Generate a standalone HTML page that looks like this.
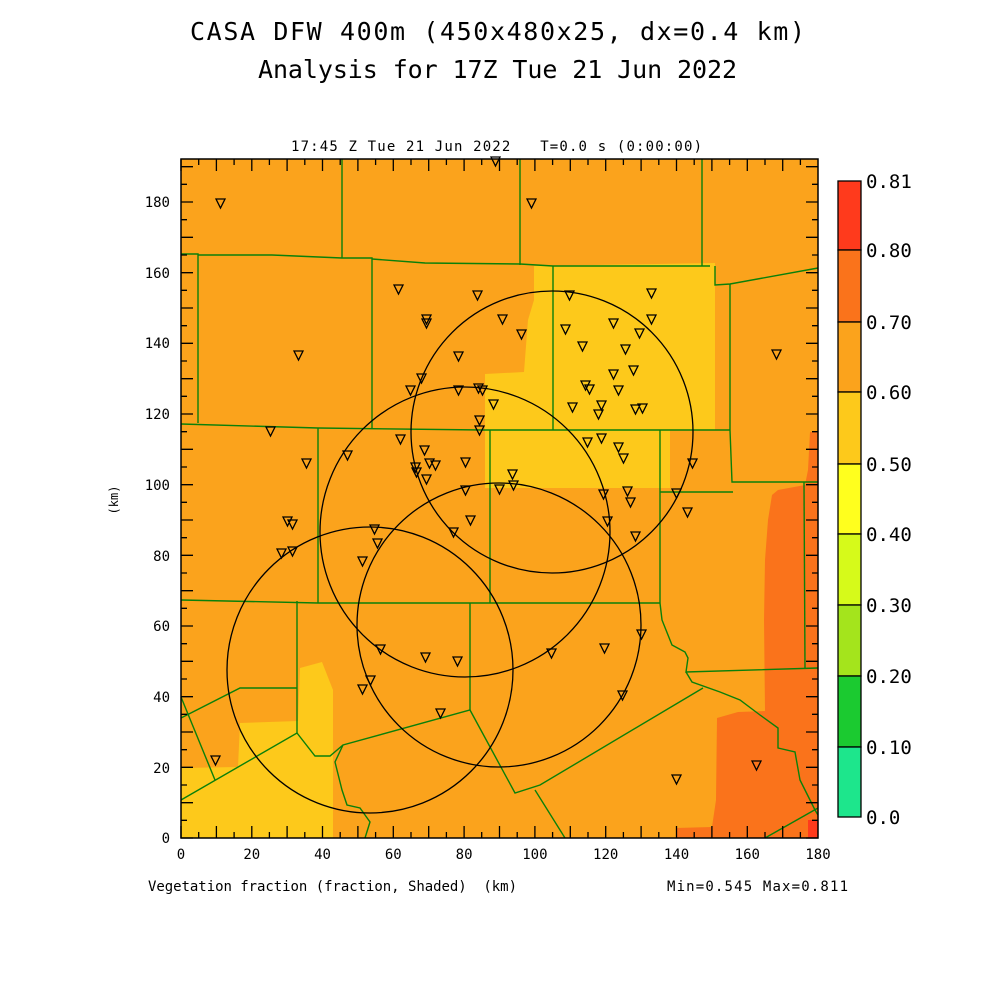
<!DOCTYPE html>
<html><head><meta charset="utf-8"><style>
body{margin:0;background:#fff;}
svg{display:block;font-family:"DejaVu Sans Mono","Liberation Mono",monospace;}
</style></head><body>
<svg width="1000" height="1000" viewBox="0 0 1000 1000" xmlns="http://www.w3.org/2000/svg">
<rect width="1000" height="1000" fill="#fff"/>
<text x="190" y="40" font-size="25" textLength="615" lengthAdjust="spacing" fill="#000">CASA DFW 400m (450x480x25, dx=0.4 km)</text>
<text x="258" y="78" font-size="25" textLength="479" lengthAdjust="spacing" fill="#000">Analysis for 17Z Tue 21 Jun 2022</text>
<text x="291" y="151" font-size="14" textLength="411" lengthAdjust="spacing" xml:space="preserve">17:45 Z Tue 21 Jun 2022   T=0.0 s (0:00:00)</text>

<rect x="181" y="159" width="637" height="679" fill="#FBA31C"/>
<polygon fill="#FDC91B" points="534,266 715,263 715,430 670,430 670,488 485,488 485,374 524,372 528,320 534,300"/>
<polygon fill="#FDC91B" points="181,768 238,767 240,723 298,721 300,668 322,662 333,690 333,838 181,838"/>
<polygon fill="#FA731B" points="810,432 818,432 818,838 676,838 676,828 712,827 716,800 717,718 738,712 765,711 764,620 765,560 768,520 772,495 778,490 805,485 808,470"/>
<rect x="808" y="820" width="10" height="18" fill="#FF3A1C"/>

<g stroke="#0A800A" stroke-width="1.4" fill="none">
<polyline points="181,254 198,254 198,423"/>
<polyline points="198,255 272,255 342,258 372,258 372,428"/>
<line x1="342" y1="159" x2="342" y2="258"/>
<polyline points="372,259 425,263 520,264 553,266 710,266"/>
<line x1="520" y1="159" x2="520" y2="265"/>
<line x1="702" y1="159" x2="702" y2="266"/>
<polyline points="715,266 715,285 730,284 818,268"/>
<line x1="553" y1="266" x2="553" y2="430"/>
<polyline points="181,424 318,428 483,430 730,430"/>
<polyline points="730,284 730,430 732,482 818,482"/>
<line x1="318" y1="428" x2="318" y2="603"/>
<line x1="490" y1="430" x2="490" y2="603"/>
<polyline points="660,430 660,603"/>
<line x1="660" y1="492" x2="733" y2="492"/>
<polyline points="181,600 318,603 660,603"/>
<line x1="297" y1="601" x2="297" y2="733"/>
<line x1="470" y1="603" x2="470" y2="710"/>
<polyline points="660,603 662,620 672,645 685,652 688,658 686,672 818,668"/>
<polyline points="804,482 805,668"/>
<polyline points="181,718 240,688 297,688"/>
<polyline points="181,697 215,780"/>
<polyline points="181,800 297,733 315,756 330,756 343,745 470,710 515,793 540,785 703,688"/>
<polyline points="343,745 335,762 342,790 347,805 360,808 370,822 365,838"/>
<polyline points="535,790 565,838"/>
<polyline points="686,672 692,682 720,692 740,700 760,715 778,728 778,748 795,752 800,780 810,800 815,810 818,815"/>
<polyline points="765,838 818,808"/>
</g>

<g stroke="#000" stroke-width="1.3" fill="none">
<circle cx="552" cy="432" r="141"/>
<circle cx="465" cy="532" r="145"/>
<circle cx="499" cy="625" r="142"/>
<circle cx="370" cy="670" r="143"/>
</g>

<g stroke="#000" stroke-width="1.3" fill="none">
<path d="M216,199h9l-4.5,9z M527,199h9l-4.5,9z M491,157h9l-4.5,9z M394,285h9l-4.5,9z M422,315h9l-4.5,9z M422,319h9l-4.5,9z M473,291h9l-4.5,9z M565,291h9l-4.5,9z M647,289h9l-4.5,9z M647,315h9l-4.5,9z M498,315h9l-4.5,9z M517,330h9l-4.5,9z M561,325h9l-4.5,9z M609,319h9l-4.5,9z M578,342h9l-4.5,9z M635,329h9l-4.5,9z M621,345h9l-4.5,9z M454,352h9l-4.5,9z M294,351h9l-4.5,9z M772,350h9l-4.5,9z M406,386h9l-4.5,9z M417,374h9l-4.5,9z M454,386h9l-4.5,9z M474,384h9l-4.5,9z M478,386h9l-4.5,9z M489,400h9l-4.5,9z M609,370h9l-4.5,9z M629,366h9l-4.5,9z M581,381h9l-4.5,9z M585,385h9l-4.5,9z M614,386h9l-4.5,9z M568,403h9l-4.5,9z M597,401h9l-4.5,9z M631,405h9l-4.5,9z M638,404h9l-4.5,9z M594,410h9l-4.5,9z M475,416h9l-4.5,9z M475,426h9l-4.5,9z M266,427h9l-4.5,9z M396,435h9l-4.5,9z M583,438h9l-4.5,9z M597,434h9l-4.5,9z M614,443h9l-4.5,9z M619,454h9l-4.5,9z M343,451h9l-4.5,9z M302,459h9l-4.5,9z M411,463h9l-4.5,9z M420,446h9l-4.5,9z M425,459h9l-4.5,9z M431,461h9l-4.5,9z M412,468h9l-4.5,9z M422,475h9l-4.5,9z M461,458h9l-4.5,9z M508,470h9l-4.5,9z M509,481h9l-4.5,9z M461,486h9l-4.5,9z M495,485h9l-4.5,9z M599,490h9l-4.5,9z M623,487h9l-4.5,9z M672,489h9l-4.5,9z M688,459h9l-4.5,9z M683,508h9l-4.5,9z M626,498h9l-4.5,9z M603,517h9l-4.5,9z M631,532h9l-4.5,9z M283,517h9l-4.5,9z M288,520h9l-4.5,9z M466,516h9l-4.5,9z M449,528h9l-4.5,9z M370,525h9l-4.5,9z M373,539h9l-4.5,9z M277,549h9l-4.5,9z M288,547h9l-4.5,9z M358,557h9l-4.5,9z M637,630h9l-4.5,9z M376,645h9l-4.5,9z M421,653h9l-4.5,9z M453,657h9l-4.5,9z M547,649h9l-4.5,9z M600,644h9l-4.5,9z M618,691h9l-4.5,9z M366,676h9l-4.5,9z M358,685h9l-4.5,9z M436,709h9l-4.5,9z M211,756h9l-4.5,9z M672,775h9l-4.5,9z M752,761h9l-4.5,9z"/>
</g>

<rect x="181" y="159" width="637" height="679" fill="none" stroke="#000" stroke-width="1.5"/>
<g stroke="#000" stroke-width="1.3">
<path d="M181,838v-12M198.7,838v-6M216.4,838v-12M234.1,838v-6M251.8,838v-12M269.4,838v-6M287.1,838v-12M304.8,838v-6M322.5,838v-12M340.2,838v-6M357.9,838v-12M375.6,838v-6M393.3,838v-12M411,838v-6M428.7,838v-12M446.4,838v-6M464.1,838v-12M481.7,838v-6M499.5,838v-12M517.2,838v-6M534.9,838v-12M552.6,838v-6M570.3,838v-12M588,838v-6M605.7,838v-12M623.4,838v-6M641.1,838v-12M658.8,838v-6M676.5,838v-12M694.2,838v-6M711.9,838v-12M729.6,838v-6M747.3,838v-12M765,838v-6M782.7,838v-12M800.4,838v-6"/>
<path d="M181,159v12M198.7,159v6M216.4,159v12M234.1,159v6M251.8,159v12M269.4,159v6M287.1,159v12M304.8,159v6M322.5,159v12M340.2,159v6M357.9,159v12M375.6,159v6M393.3,159v12M411,159v6M428.7,159v12M446.4,159v6M464.1,159v12M481.7,159v6M499.5,159v12M517.2,159v6M534.9,159v12M552.6,159v6M570.3,159v12M588,159v6M605.7,159v12M623.4,159v6M641.1,159v12M658.8,159v6M676.5,159v12M694.2,159v6M711.9,159v12M729.6,159v6M747.3,159v12M765,159v6M782.7,159v12M800.4,159v6"/>
<path d="M181,838h12M181,820.3h6M181,802.7h12M181,785h6M181,767.3h12M181,749.7h6M181,732h12M181,714.3h6M181,696.7h12M181,679h6M181,661.3h12M181,643.7h6M181,626h12M181,608.3h6M181,590.7h12M181,573h6M181,555.3h12M181,537.7h6M181,520h12M181,502.3h6M181,484.7h12M181,467h6M181,449.3h12M181,431.7h6M181,414h12M181,396.3h6M181,378.7h12M181,361h6M181,343.3h12M181,325.7h6M181,308h12M181,290.3h6M181,272.7h12M181,255h6M181,237.3h12M181,219.7h6M181,202h12M181,184.3h6M181,166.7h12"/>
<path d="M818,838h-12M818,820.3h-6M818,802.7h-12M818,785h-6M818,767.3h-12M818,749.7h-6M818,732h-12M818,714.3h-6M818,696.7h-12M818,679h-6M818,661.3h-12M818,643.7h-6M818,626h-12M818,608.3h-6M818,590.7h-12M818,573h-6M818,555.3h-12M818,537.7h-6M818,520h-12M818,502.3h-6M818,484.7h-12M818,467h-6M818,449.3h-12M818,431.7h-6M818,414h-12M818,396.3h-6M818,378.7h-12M818,361h-6M818,343.3h-12M818,325.7h-6M818,308h-12M818,290.3h-6M818,272.7h-12M818,255h-6M818,237.3h-12M818,219.7h-6M818,202h-12M818,184.3h-6M818,166.7h-12"/>
</g>

<g font-size="14" fill="#000">
<g text-anchor="middle">
<text x="181" y="859">0</text><text x="251.8" y="859">20</text><text x="322.5" y="859">40</text><text x="393.3" y="859">60</text><text x="464.1" y="859">80</text><text x="534.9" y="859">100</text><text x="605.7" y="859">120</text><text x="676.5" y="859">140</text><text x="747.3" y="859">160</text><text x="818" y="859">180</text>
</g>
<g text-anchor="end">
<text x="170" y="843">0</text><text x="170" y="773">20</text><text x="170" y="702">40</text><text x="170" y="631">60</text><text x="170" y="561">80</text><text x="170" y="490">100</text><text x="170" y="419">120</text><text x="170" y="348">140</text><text x="170" y="278">160</text><text x="170" y="207">180</text>
</g>
<text x="118" y="500" font-size="12" transform="rotate(-90 118 500)" text-anchor="middle">(km)</text>
<text x="148" y="891" textLength="369" lengthAdjust="spacing" xml:space="preserve">Vegetation fraction (fraction, Shaded)  (km)</text>
<text x="667" y="891" textLength="181" lengthAdjust="spacing">Min=0.545 Max=0.811</text>
</g>

<g stroke="#000" stroke-width="1.3">
<rect x="838" y="181" width="23" height="69" fill="#FF3A1C"/>
<rect x="838" y="250" width="23" height="72" fill="#FA731B"/>
<rect x="838" y="322" width="23" height="70" fill="#FBA31C"/>
<rect x="838" y="392" width="23" height="72" fill="#FDC91B"/>
<rect x="838" y="464" width="23" height="70" fill="#FFFF1E"/>
<rect x="838" y="534" width="23" height="71" fill="#D6FA1A"/>
<rect x="838" y="605" width="23" height="71" fill="#A4E41C"/>
<rect x="838" y="676" width="23" height="71" fill="#1BCA30"/>
<rect x="838" y="747" width="23" height="70" fill="#1DE68C"/>
</g>
<g font-size="19" fill="#000">
<text x="866" y="188">0.81</text><text x="866" y="257">0.80</text><text x="866" y="329">0.70</text><text x="866" y="399">0.60</text><text x="866" y="471">0.50</text><text x="866" y="541">0.40</text><text x="866" y="612">0.30</text><text x="866" y="683">0.20</text><text x="866" y="754">0.10</text><text x="866" y="824">0.0</text>
</g>
</svg>
</body></html>
